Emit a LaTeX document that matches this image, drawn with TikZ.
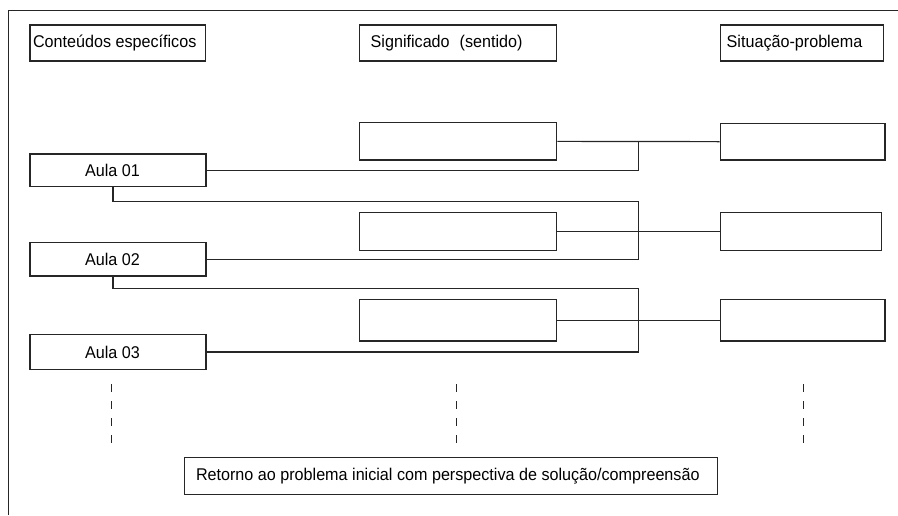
\documentclass[tikz,border=0pt]{standalone}
\usepackage{fontspec}
\setmainfont{Liberation Sans}[FakeStretch=0.95]
\begin{document}
\begin{tikzpicture}[x=1pt,y=-1pt,
  every node/.style={inner sep=0pt, font=\fontsize{17}{20}\selectfont},
  bx/.style={draw=black!85, line width=1.2pt},
  ln/.style={draw=black!85, line width=1.2pt},
  dsh/.style={draw=black!85, line width=1.3pt, dash pattern=on 8pt off 9pt}]
\useasboundingbox (0,0) rectangle (898,515);
% outer frame (top and left)
\draw[ln] (8.5,515) -- (8.5,10.5) -- (898,10.5);
% headers
\node[bx, minimum height=36pt, inner xsep=3pt] (h1) at (117.85,43) {\makebox[169.7pt][l]{Conteúdos específicos}};
\node[bx, minimum height=36pt, inner xsep=11.4pt] (h2) at (458,43) {\makebox[174.6pt][l]{Significado\hspace{5.5pt} (sentido)}};
\node[bx, minimum height=36pt, inner xsep=6pt] (h3) at (802.2,43) {\makebox[151pt][l]{Situação-problema}};
% aulas
\node[bx, minimum height=32.7pt, inner xsep=55pt] (a1) at (118,170.35) {\makebox[66pt][l]{Aula 01}};
\node[bx, minimum height=33.7pt, inner xsep=55pt] (a2) at (118,259.15) {\makebox[66pt][l]{Aula 02}};
\node[bx, minimum height=35.4pt, inner xsep=55pt] (a3) at (118,352) {\makebox[66pt][l]{Aula 03}};
% significado boxes
\node[bx, minimum width=197.4pt, minimum height=37.3pt] (s1) at (458,141.35) {};
\node[bx, minimum width=197.4pt, minimum height=38pt] (s2) at (458,231.7) {};
\node[bx, minimum width=197.4pt, minimum height=41.7pt] (s3) at (458,320.15) {};
% situacao boxes
\node[bx, minimum width=164.7pt, minimum height=36.7pt] (t1) at (802.65,141.65) {};
\node[bx, minimum width=161.4pt, minimum height=38pt] (t2) at (801,231.7) {};
\node[bx, minimum width=164.7pt, minimum height=41.7pt] (t3) at (802.65,320.15) {};
% bottom box
\node[bx, minimum height=36.6pt, inner xsep=11.7pt] (rb) at (451,476) {\makebox[510pt][l]{Retorno ao problema inicial com perspectiva de solução/compreensão}};
% junction coordinates
\coordinate (j1) at (638.3,141.5);
\coordinate (k2) at (638.3,201.7);
\coordinate (k3) at (638.3,288.3);
% connectors row 1
\draw[ln] (s1.east) -- (t1.west);
\draw[ln] (a1.east) -| (j1);
% row 2
\draw[ln] ([xshift=-5pt]a1.south) |- (k2) |- (a2.east);
\draw[ln] (s2.east) -- (t2.west);
% row 3
\draw[ln] ([xshift=-5pt]a2.south) |- (k3) |- (a3.east);
\draw[ln] (s3.east) -- (t3.west);
% dashed continuation
\coordinate (d1a) at (111.7,384); \coordinate (d1b) at (111.7,443.5);
\coordinate (d2a) at (456.7,384); \coordinate (d2b) at (456.7,443.5);
\coordinate (d3a) at (803.3,384); \coordinate (d3b) at (803.3,443.5);
\draw[dsh] (d1a) -- (d1b);
\draw[dsh] (d2a) -- (d2b);
\draw[dsh] (d3a) -- (d3b);
\end{tikzpicture}
\end{document}
